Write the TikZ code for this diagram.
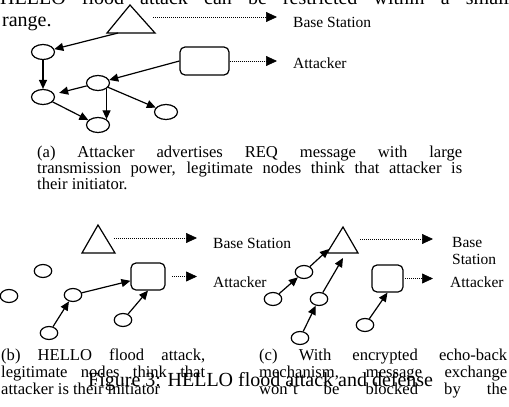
\documentclass[tikz,border=0pt]{standalone}
\usepackage{fontspec}
\setmainfont{Liberation Serif}
\usetikzlibrary{arrows.meta,shapes.geometric,calc}

\begin{document}
\begin{tikzpicture}[x=1pt,y=-1pt,
  sensor/.style={draw,ellipse,line width=1.2pt,inner sep=0pt,minimum width=23pt,minimum height=15pt},
  smallsensor/.style={sensor,minimum width=17.5pt,minimum height=13pt},
  attackerbox/.style={draw,line width=1.2pt,rounded corners=5pt,inner sep=0pt},
  stationtri/.style={draw,line width=1.2pt,line join=miter},
  link/.style={line width=1.2pt,-{Triangle[length=9pt,width=8pt]}},
  pointer/.style={line width=0.7pt,dash pattern=on 0.7pt off 1.3pt,-{Triangle[length=11pt,width=10pt]}},
  legend/.style={anchor=base west,inner sep=0pt,font=\fontsize{15.5}{17}\selectfont},
  bodytext/.style={anchor=base west,inner sep=0pt,font=\fontsize{20}{22}\selectfont},
  captext/.style={anchor=base west,inner sep=0pt,font=\fontsize{16.6}{19}\selectfont}
]
\useasboundingbox (0,0) rectangle (509,407);

% running text above the figure
\node[bodytext] (line1) at (0,4) {\makebox[509pt][s]{HELLO flood attack can be restricted within a small}};
\node[bodytext] (line2) at (2,26) {range.};

% ---------- (a) ----------
\coordinate (tAl) at (107,33);
\coordinate (tAt) at (130,5);
\coordinate (tAr) at (155,33);
\draw[stationtri] (tAl) -- (tAt) -- (tAr) -- cycle;
\coordinate (tAs) at (118,33);
\coordinate (tAp) at (153,17);
\coordinate (tipA1) at (277,17);
\node[legend] (bsA) at (293,27) {Base Station};

\node[attackerbox,minimum width=49pt,minimum height=28pt] (rA) at (204.5,61) {};
\coordinate (tipA2) at (277,61);
\node[legend] (atA) at (293,68) {Attacker};

\node[sensor] (e1) at (43,52) {};
\node[sensor] (e2) at (43,97) {};
\node[sensor] (e3) at (98,125) {};
\node[sensor] (e4) at (98,83) {};
\node[sensor] (e5) at (166,112) {};

\draw[pointer] (tAp) -- (tipA1);
\draw[pointer] (rA.east) -- (tipA2);
\draw[link] (tAs) -- (e1);
\draw[link] (e1) -- (e2);
\draw[link] (e2) -- (e3);
\draw[link] (rA.west) -- (e4);
\draw[link,shorten >=5pt] (e4) -- (e2);
\draw[link] (e4.south east) -- (e3.north east);
\draw[link] (e4) -- (e5);

\node[captext] (capA1) at (37,157) {\makebox[425pt][s]{(a) Attacker advertises REQ message with large}};
\node[captext] (capA2) at (37,173) {\makebox[425pt][s]{transmission power, legitimate nodes think that attacker is}};
\node[captext] (capA3) at (37,189) {their initiator.};

% ---------- (b) ----------
\coordinate (tBl) at (82,253);
\coordinate (tBt) at (98,225);
\coordinate (tBr) at (115,253);
\draw[stationtri] (tBl) -- (tBt) -- (tBr) -- cycle;
\coordinate (tBp) at (114,238);
\coordinate (tipB1) at (197,238);
\node[legend] (bsB) at (213,248) {Base Station};

\node[attackerbox,minimum width=34pt,minimum height=27pt] (rB) at (148,276.5) {};
\coordinate (rBp) at (172,276.5);
\coordinate (tipB2) at (197,276.5);
\node[legend] (atB) at (213,287) {Attacker};

\node[smallsensor] (eA) at (43,271) {};
\node[smallsensor] (eB) at (9,296) {};
\node[smallsensor] (eC) at (73,295) {};
\node[smallsensor] (eD) at (49,333) {};
\node[smallsensor] (eE) at (123,320) {};

\draw[pointer] (tBp) -- (tipB1);
\draw[pointer] (rBp) -- (tipB2);
\draw[link] (eC) -- (rB);
\draw[link] (eD) -- (eC);
\draw[link] (eE) -- (rB.south);

\node[captext] (capB1) at (1,360) {\makebox[204pt][s]{(b) HELLO flood attack,}};
\node[captext] (capB2) at (1,377) {\makebox[204pt][s]{legitimate nodes think that}};
\node[captext] (capB3) at (1,394) {attacker is their initiator};

% ---------- (c) ----------
\coordinate (tCl) at (327,253);
\coordinate (tCt) at (343,227);
\coordinate (tCr) at (358,253);
\draw[stationtri] (tCl) -- (tCt) -- (tCr) -- cycle;
\coordinate (tCa) at (329,249);
\coordinate (tCb) at (343,258);
\coordinate (tCp) at (360,239);
\coordinate (tipC1) at (433,239);
\node[legend] (bsC1) at (452,247) {Base};
\node[legend] (bsC2) at (452,264) {Station};

\node[attackerbox,minimum width=31pt,minimum height=27pt] (rC) at (387.5,278.5) {};
\coordinate (rCp) at (405,278.5);
\coordinate (tipC2) at (433,278.5);
\node[legend] (atC) at (450,287) {Attacker};

\node[smallsensor] (eF) at (304,272) {};
\node[smallsensor] (eG) at (273,299) {};
\node[smallsensor] (eH) at (319,299) {};
\node[smallsensor] (eI) at (300,338) {};
\node[smallsensor] (eJ) at (365,325) {};

\draw[pointer] (tCp) -- (tipC1);
\draw[pointer] (rCp) -- (tipC2);
\draw[link] (eF) -- (tCa);
\draw[link] (eG) -- (eF);
\draw[link] (eH) -- (tCb);
\draw[link] (eI) -- (eH);
\draw[link] (eJ) -- (rC.south);

\node[captext] (capC1) at (259,360) {\makebox[248pt][s]{(c) With encrypted echo-back}};
\node[captext] (capC2) at (259,377) {\makebox[248pt][s]{mechanism, message exchange}};
\node[captext] (capC3) at (259,394) {\makebox[248pt][s]{won’t be blocked by the}};

% figure caption printed across the sub-captions
\node[bodytext] (figcap) at (88,386) {Figure 3: HELLO flood attack and defense};
\end{tikzpicture}
\end{document}
